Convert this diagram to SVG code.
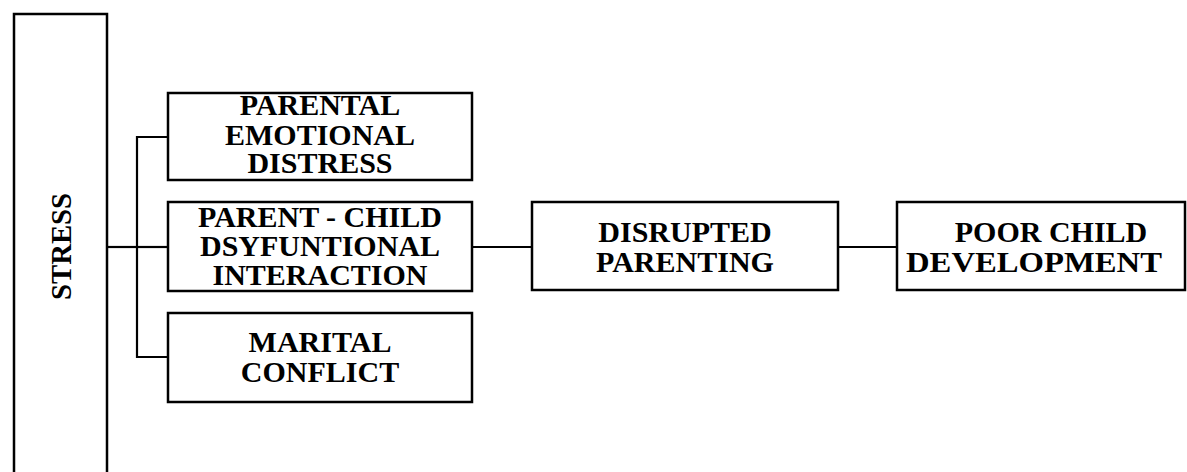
<svg xmlns="http://www.w3.org/2000/svg" width="1187" height="472" viewBox="0 0 1187 472">
  <style>
    .box { fill: #fff; stroke: #000; stroke-width: 2.5; }
    .lbl { font-family: "Liberation Serif", "Times New Roman", serif; font-weight: bold; font-size: 30px; fill: #000; text-anchor: middle; }
    .wire { fill: none; stroke: #000; stroke-width: 2.2; }
  </style>
  <rect width="1187" height="472" fill="#fff"/>

  <!-- connectors -->
  <g id="connectors">
    <line class="wire" x1="107" y1="247" x2="137" y2="247" stroke-width="3"/>
    <polyline class="wire" points="168,137 137,137 137,357 168,357"/>
    <line class="wire" x1="137" y1="247" x2="168" y2="247"/>
    <line class="wire" x1="472" y1="247" x2="532" y2="247"/>
    <line class="wire" x1="838" y1="247" x2="897" y2="247"/>
  </g>

  <g id="stress">
    <rect class="box" x="14" y="14" width="93" height="470"/>
    <text class="lbl" font-size="33" textLength="107" lengthAdjust="spacingAndGlyphs" transform="translate(71 246.5) rotate(-90)" x="0" y="0">STRESS</text>
  </g>

  <g id="emotional-distress">
    <rect class="box" x="168" y="93" width="304" height="87"/>
    <text class="lbl" x="320" y="115">PARENTAL</text>
    <text class="lbl" x="320" y="145">EMOTIONAL</text>
    <text class="lbl" x="320" y="173">DISTRESS</text>
  </g>

  <g id="dysfunctional-interaction">
    <rect class="box" x="168" y="202" width="304" height="89"/>
    <text class="lbl" x="320" y="227">PARENT - CHILD</text>
    <text class="lbl" x="320" y="256">DSYFUNTIONAL</text>
    <text class="lbl" x="320" y="285">INTERACTION</text>
  </g>

  <g id="marital-conflict">
    <rect class="box" x="168" y="313" width="304" height="89"/>
    <text class="lbl" x="320" y="352">MARITAL</text>
    <text class="lbl" x="320" y="382">CONFLICT</text>
  </g>

  <g id="disrupted-parenting">
    <rect class="box" x="532" y="202" width="306" height="88"/>
    <text class="lbl" x="685" y="242">DISRUPTED</text>
    <text class="lbl" x="685" y="272">PARENTING</text>
  </g>

  <g id="poor-development">
    <rect class="box" x="897" y="202" width="288" height="88"/>
    <text class="lbl" x="1051" y="242">POOR CHILD</text>
    <text class="lbl" x="1034" y="272" textLength="256" lengthAdjust="spacingAndGlyphs">DEVELOPMENT</text>
  </g>
</svg>
